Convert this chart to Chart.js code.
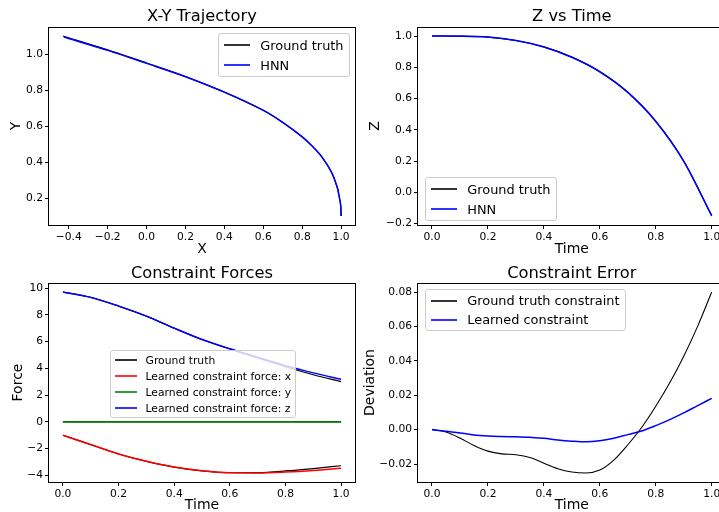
<!DOCTYPE html>
<html>
<head>
<meta charset="utf-8">
<script src="https://cdn.jsdelivr.net/npm/chart.js@4.4.1/dist/chart.umd.min.js"></script>
<style>
  html, body { margin: 0; padding: 0; background: #fff; }
  #page { position: relative; width: 719px; height: 512px; overflow: hidden; font-family: 'DejaVu Sans', sans-serif; }
  #page canvas { position: absolute; }
  .legend { position: absolute; background: rgba(255,255,255,0.8); border: 1px solid #cccccc; border-radius: 3px;
            padding: 1px 0.4em; color: #000; white-space: nowrap; }
  .legend .row { display: flex; align-items: center; }
  .legend .swatch { display: inline-block; width: 2em; height: 2px; margin-right: 0.8em; opacity: 0.8; }
</style>
</head>
<body>
<div id="page">
  <canvas id="traj" width="360" height="256" style="left:0;top:0"></canvas>
  <canvas id="zt" width="372" height="256" style="left:359px;top:0"></canvas>
  <canvas id="forces" width="360" height="256" style="left:0;top:256px"></canvas>
  <canvas id="err" width="372" height="256" style="left:359px;top:256px"></canvas>
  <div id="traj-legend" class="legend" style="left:218px;top:33px;font-size:12.9px"></div>
  <div id="zt-legend" class="legend" style="left:425px;top:177px;font-size:12.9px"></div>
  <div id="forces-legend" class="legend" style="left:110px;top:350px;font-size:10.8px"></div>
  <div id="err-legend" class="legend" style="left:425px;top:289px;font-size:12.9px"></div>
</div>
<script>
// --- data ---

// X-Y trajectory, in time order (starts at x = 1)
const trajXTruth = [1.0, 0.998, 0.99, 0.98, 0.95, 0.9, 0.85, 0.8, 0.7, 0.6, 0.4, 0.2, 0.0, -0.2, -0.43];
const trajYTruth = [0.1, 0.16, 0.21, 0.26, 0.345, 0.43, 0.49, 0.54, 0.62, 0.687, 0.788, 0.875, 0.95, 1.023, 1.1];
const trajXHnn   = [1.0, 0.998, 0.99, 0.98, 0.95, 0.9, 0.85, 0.8, 0.7, 0.6, 0.4, 0.2, 0.0, -0.2, -0.425];
const trajYHnn   = [0.1, 0.16, 0.21, 0.26, 0.345, 0.43, 0.49, 0.54, 0.62, 0.687, 0.788, 0.874, 0.948, 1.02, 1.094];

const timeCoarse = [0, 0.1, 0.2, 0.3, 0.4, 0.5, 0.6, 0.7, 0.8, 0.9, 1.0];
const zTruth = [1.0, 0.999, 0.993, 0.971, 0.93, 0.865, 0.772, 0.64, 0.455, 0.2, -0.148];
const zHnn   = [1.0, 0.999, 0.993, 0.971, 0.93, 0.864, 0.771, 0.639, 0.453, 0.198, -0.152];

const forceXTruth   = [-1.0, -1.7, -2.4, -2.95, -3.38, -3.66, -3.8, -3.79, -3.67, -3.49, -3.28];
const forceYTruth   = [0, 0, 0, 0, 0, 0, 0, 0, 0, 0, 0];
const forceZTruth   = [9.7, 9.3, 8.65, 7.9, 7.0, 6.15, 5.45, 4.78, 4.12, 3.52, 3.0];
const forceXLearned = [-1.0, -1.7, -2.4, -2.95, -3.38, -3.66, -3.81, -3.82, -3.75, -3.63, -3.46];
const forceYLearned = [0, 0, 0, 0, 0, 0, 0, 0, 0, 0, 0];
const forceZLearned = [9.7, 9.3, 8.65, 7.9, 7.0, 6.15, 5.46, 4.83, 4.2, 3.66, 3.18];

const timeFine = [0, 0.05, 0.1, 0.15, 0.2, 0.25, 0.3, 0.35, 0.4, 0.45, 0.5,
                  0.55, 0.6, 0.65, 0.7, 0.75, 0.8, 0.85, 0.9, 0.95, 1.0];
const errTruth = [0, -0.0014, -0.0049, -0.0092, -0.0125, -0.0141, -0.0146, -0.0162, -0.0195, -0.0227, -0.0246,
                  -0.0252, -0.0235, -0.0177, -0.0088, 0.0014, 0.0136, 0.0272, 0.0427, 0.0602, 0.080];
const errLearned = [0, -0.001, -0.0019, -0.0031, -0.0037, -0.004, -0.0042, -0.0045, -0.005, -0.006, -0.0067,
                    -0.0071, -0.0065, -0.005, -0.0029, -0.0008, 0.0023, 0.0058, 0.0097, 0.014, 0.0182];

// --- helpers ---
const TXT = '#000';

function toPoints(xs, ys) {
  return xs.map((x, i) => ({ x: x, y: ys[i] }));
}

// matplotlib-style autoscale: 5% margin on each side
function paddedRange(...arrays) {
  const all = [].concat(...arrays);
  const lo = Math.min(...all), hi = Math.max(...all);
  const m = (hi - lo) * 0.05;
  return { min: lo - m, max: hi + m };
}

function fmt(decimals) {
  return v => (Math.abs(v) < 1e-9 ? 0 : v).toFixed(decimals).replace('-', '\u2212');
}

function axis(opts) {
  const horizontal = opts.position === 'bottom';
  return {
    type: 'linear',
    position: opts.position,
    min: opts.range.min,
    max: opts.range.max,
    ticks: {
      stepSize: opts.step, includeBounds: false, autoSkip: false, maxRotation: 0,
      padding: 2, color: TXT, font: { size: 10.7 }, callback: fmt(opts.decimals)
    },
    grid: { drawOnChartArea: false, drawTicks: true, tickLength: 4, tickColor: '#000', tickWidth: 1 },
    border: { display: false },
    title: {
      display: true, text: opts.title, color: TXT,
      font: { size: 14, lineHeight: 1 },
      padding: horizontal ? { top: 0, bottom: 0 } : { top: opts.titlePad, bottom: 0 }
    },
    afterFit: s => { if (horizontal) s.height = opts.size; else s.width = opts.size; }
  };
}

function line(label, points, color, width, order, extra) {
  return Object.assign({
    label: label, data: points, borderColor: color, borderWidth: width,
    pointRadius: 0, fill: false, order: order, cubicInterpolationMode: 'monotone'
  }, extra || {});
}

// draw all four spines like matplotlib
const framePlugin = {
  id: 'frame',
  afterDatasetsDraw(chart) {
    const { ctx, chartArea: a } = chart;
    const l = Math.round(a.left), t = Math.round(a.top), r = Math.round(a.right), b = Math.round(a.bottom);
    ctx.save();
    ctx.strokeStyle = '#000';
    ctx.lineWidth = 1;
    ctx.strokeRect(l - 0.5, t + 0.5, r - l + 1, b - t);
    ctx.restore();
  }
};

function makeChart(id, cfg) {
  return new Chart(document.getElementById(id), {
    type: 'line',
    data: { datasets: cfg.datasets },
    options: {
      responsive: false,
      animation: false,
      devicePixelRatio: 1,
      layout: { padding: { left: 0, right: cfg.padRight, top: 0, bottom: 0 } },
      plugins: {
        legend: { display: false },
        tooltip: { enabled: false },
        title: {
          display: true, text: cfg.title, fullSize: false, color: TXT,
          font: { size: 16.3, weight: 'normal', lineHeight: 1.2 },
          padding: { top: cfg.titleTop, bottom: 27 - 19.56 - cfg.titleTop }
        }
      },
      scales: { x: cfg.x, y: cfg.y }
    },
    plugins: [framePlugin]
  });
}

// legend built from the labelled datasets
function buildLegend(chart, elId, rowHeight) {
  const box = document.getElementById(elId);
  chart.data.datasets.filter(ds => ds.label).forEach(ds => {
    const row = document.createElement('div');
    row.className = 'row';
    row.style.height = rowHeight + 'px';
    const sw = document.createElement('span');
    sw.className = 'swatch';
    sw.style.backgroundColor = ds.borderColor;
    const tx = document.createElement('span');
    tx.textContent = ds.label;
    row.append(sw, tx);
    box.appendChild(row);
  });
}

Chart.defaults.font.family = "'DejaVu Sans', sans-serif";

// --- 1. X-Y trajectory ---
const trajChart = makeChart('traj', {
  title: 'X-Y Trajectory', titleTop: 7, padRight: 5,
  datasets: [
    line('Ground truth', toPoints(trajXTruth, trajYTruth), '#000000', 1.2, 2, { tension: 0.3, cubicInterpolationMode: 'default' }),
    line('HNN', toPoints(trajXHnn, trajYHnn), '#0000ff', 1.5, 1, { tension: 0.3, cubicInterpolationMode: 'default' })
  ],
  x: axis({ position: 'bottom', title: 'X', range: paddedRange(trajXTruth, trajXHnn), step: 0.2, decimals: 1, size: 31 }),
  y: axis({ position: 'left', title: 'Y', range: paddedRange(trajYTruth, trajYHnn), step: 0.2, decimals: 1, size: 49, titlePad: 9 })
});
buildLegend(trajChart, 'traj-legend', 20);

// --- 2. Z vs time ---
const ztChart = makeChart('zt', {
  title: 'Z vs Time', titleTop: 7, padRight: 5.3,
  datasets: [
    line('Ground truth', toPoints(timeCoarse, zTruth), '#000000', 1.2, 2),
    line('HNN', toPoints(timeCoarse, zHnn), '#0000ff', 1.5, 1)
  ],
  x: axis({ position: 'bottom', title: 'Time', range: paddedRange(timeCoarse), step: 0.2, decimals: 1, size: 31 }),
  y: axis({ position: 'left', title: 'Z', range: paddedRange(zTruth, zHnn), step: 0.2, decimals: 1, size: 59, titlePad: 9.7 })
});
buildLegend(ztChart, 'zt-legend', 20);

// --- 3. constraint forces ---
const forcesChart = makeChart('forces', {
  title: 'Constraint Forces', titleTop: 7.5, padRight: 5,
  datasets: [
    line('Ground truth', toPoints(timeCoarse, forceXTruth), '#000000', 1.2, 2),
    line('', toPoints(timeCoarse, forceYTruth), '#000000', 1.2, 2),
    line('', toPoints(timeCoarse, forceZTruth), '#000000', 1.2, 2),
    line('Learned constraint force: x', toPoints(timeCoarse, forceXLearned), '#ff0000', 1.5, 1),
    line('Learned constraint force: y', toPoints(timeCoarse, forceYLearned), '#008000', 1.5, 1),
    line('Learned constraint force: z', toPoints(timeCoarse, forceZLearned), '#0000ff', 1.5, 1)
  ],
  x: axis({ position: 'bottom', title: 'Time', range: paddedRange(timeCoarse), step: 0.2, decimals: 1, size: 30 }),
  y: axis({ position: 'left', title: 'Force',
            range: paddedRange(forceXTruth, forceZTruth, forceXLearned, forceZLearned),
            step: 2, decimals: 0, size: 49, titlePad: 11 })
});
buildLegend(forcesChart, 'forces-legend', 16);

// --- 4. constraint error ---
const errChart = makeChart('err', {
  title: 'Constraint Error', titleTop: 7.5, padRight: 5.3,
  datasets: [
    line('Ground truth constraint', toPoints(timeFine, errTruth), '#000000', 1.1, 2),
    line('Learned constraint', toPoints(timeFine, errLearned), '#0000ff', 1.5, 1)
  ],
  x: axis({ position: 'bottom', title: 'Time', range: paddedRange(timeFine), step: 0.2, decimals: 1, size: 30 }),
  y: axis({ position: 'left', title: 'Deviation', range: paddedRange(errTruth, errLearned), step: 0.02, decimals: 2, size: 59, titlePad: 4.7 })
});
buildLegend(errChart, 'err-legend', 19);
</script>
</body>
</html>
